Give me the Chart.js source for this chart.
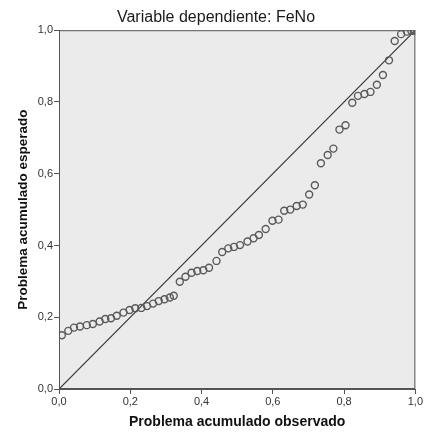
<!DOCTYPE html>
<html>
<head>
<meta charset="utf-8">
<script src="https://cdn.jsdelivr.net/npm/chart.js@4.4.0/dist/chart.umd.min.js"></script>
<style>
  html, body { margin: 0; padding: 0; background: #ffffff; }
  #wrap { width: 424px; height: 432px; position: relative; }
</style>
</head>
<body>
<div id="wrap"><canvas id="ppPlot"></canvas></div>
<script>
// observed cumulative probability (x) and expected cumulative probability (y)
const observado = [
  0.008, 0.026, 0.042, 0.059, 0.078, 0.095, 0.114, 0.130, 0.146, 0.162,
  0.181, 0.198, 0.214, 0.231, 0.247, 0.264, 0.280, 0.296, 0.311, 0.322,
  0.339, 0.355, 0.372, 0.388, 0.405, 0.421, 0.442, 0.458, 0.475, 0.491,
  0.508, 0.529, 0.546, 0.561, 0.580, 0.599, 0.616, 0.632, 0.649, 0.667,
  0.684, 0.702, 0.718, 0.735, 0.754, 0.770, 0.787, 0.804, 0.823, 0.839,
  0.857, 0.874, 0.892, 0.909, 0.926, 0.942, 0.960, 0.977, 0.989, 0.998
];
const esperado = [
  0.150, 0.162, 0.171, 0.174, 0.178, 0.181, 0.188, 0.195, 0.197, 0.204,
  0.213, 0.220, 0.225, 0.226, 0.231, 0.238, 0.245, 0.250, 0.255, 0.260,
  0.299, 0.313, 0.324, 0.329, 0.331, 0.338, 0.357, 0.382, 0.392, 0.396,
  0.401, 0.411, 0.420, 0.429, 0.446, 0.469, 0.472, 0.497, 0.500, 0.510,
  0.514, 0.542, 0.568, 0.629, 0.652, 0.670, 0.723, 0.735, 0.798, 0.817,
  0.822, 0.828, 0.848, 0.875, 0.916, 0.970, 0.989, 0.996, 0.998, 0.999
];
// reference diagonal
const diagonalX = [0, 1];
const diagonalY = [0, 1];
const tickValues = [0, 0.2, 0.4, 0.6, 0.8, 1.0];

const FONT = "'Liberation Sans', Arial, sans-serif";

// gray plot background + frame
const plotBackground = {
  id: 'plotBackground',
  beforeDraw(chart) {
    const { ctx, chartArea: a } = chart;
    ctx.save();
    ctx.fillStyle = '#ebebeb';
    ctx.fillRect(a.left, a.top, a.right - a.left, a.bottom - a.top);
    ctx.restore();
  },
  afterDraw(chart) {
    const { ctx, chartArea: a } = chart;
    ctx.save();
    ctx.strokeStyle = '#555555';
    ctx.lineWidth = 1;
    ctx.strokeRect(a.left + 0.5, a.top + 0.5, a.right - a.left - 1, a.bottom - a.top - 1);
    ctx.restore();
  }
};

const fmt = v => Number(v).toFixed(1).replace('.', ',');

new Chart(document.getElementById('ppPlot'), {
  type: 'scatter',
  data: {
    datasets: [
      {
        label: 'puntos',
        data: observado.map((x, i) => ({ x: x, y: esperado[i] })),
        pointRadius: 3.5,
        pointBorderWidth: 1.4,
        pointBorderColor: '#5a5a5a',
        pointBackgroundColor: 'rgba(0,0,0,0)',
        showLine: false
      },
      {
        label: 'diagonal',
        data: diagonalX.map((x, i) => ({ x: x, y: diagonalY[i] })),
        showLine: true,
        borderColor: '#333333',
        borderWidth: 1.2,
        pointRadius: 0
      }
    ]
  },
  options: {
    responsive: true,
    maintainAspectRatio: false,
    animation: false,
    layout: { padding: { left: 15, right: 7, top: 0, bottom: 0 } },
    plugins: {
      legend: { display: false },
      tooltip: { enabled: false },
      title: {
        display: true,
        text: 'Variable dependiente: FeNo',
        color: '#1a1a1a',
        font: { family: FONT, size: 16, weight: 'normal' },
        padding: { top: 8, bottom: 3 }
      }
    },
    scales: {
      x: {
        type: 'linear',
        min: 0, max: 1,
        afterBuildTicks: s => { s.ticks = tickValues.map(v => ({ value: v })); },
        afterFit: s => { s.height = 43; },
        ticks: {
          callback: fmt,
          color: '#333333',
          font: { family: FONT, size: 11 },
          padding: 1,
          maxRotation: 0
        },
        grid: { drawOnChartArea: false, drawTicks: true, tickLength: 5, color: '#555555' },
        border: { color: '#555555' },
        title: {
          display: true,
          text: 'Problema acumulado observado',
          color: '#111111',
          font: { family: FONT, size: 14, weight: 'bold' },
          padding: { top: 0, bottom: 1 }
        }
      },
      y: {
        type: 'linear',
        min: 0, max: 1,
        afterBuildTicks: s => { s.ticks = tickValues.map(v => ({ value: v })); },
        afterFit: s => { s.width = 44; },
        ticks: {
          callback: fmt,
          color: '#333333',
          font: { family: FONT, size: 11 },
          padding: 1
        },
        grid: { drawOnChartArea: false, drawTicks: true, tickLength: 5, color: '#555555' },
        border: { color: '#555555' },
        title: {
          display: true,
          text: 'Problema acumulado esperado',
          color: '#111111',
          font: { family: FONT, size: 13.5, weight: 'bold' },
          padding: { top: 0, bottom: 0 }
        }
      }
    }
  },
  plugins: [plotBackground]
});
</script>
</body>
</html>
